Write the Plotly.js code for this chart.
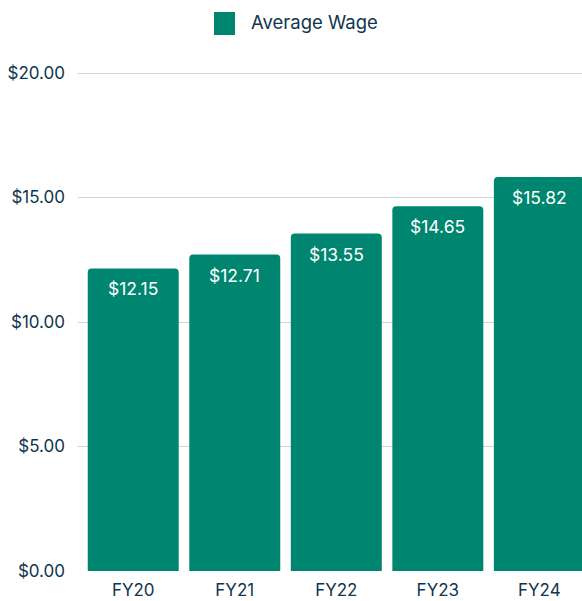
<!DOCTYPE html>
<html>
<head>
<meta charset="utf-8">
<script src="https://cdn.plot.ly/plotly-3.0.1.min.js"></script>
<style>html,body{margin:0;padding:0;background:#fff;}#chart{width:582px;height:601px;}</style>
</head>
<body>
<div id="chart"></div>
<script>
const categories = ["FY20", "FY21", "FY22", "FY23", "FY24"];
const averageWage = [12.15, 12.71, 13.55, 14.65, 15.82];
const seriesName = "Average Wage";
const yTickValues = [0, 5, 10, 15, 20];
const yTickLabels = ["$0.00", "$5.00", "$10.00", "$15.00", "$20.00"];

const barColor = "#008571";
const textColor = "#0f3550";
const fontFamily = "Inter, 'Noto Sans', sans-serif";

const labels = averageWage.map(v => "$" + v.toFixed(2));

const trace = {
  type: "bar",
  name: seriesName,
  x: categories,
  y: averageWage,
  marker: {color: barColor, cornerradius: 4},
  hoverinfo: "skip",
  showlegend: false
};

// plot area: top 69, bottom 571 (502 px); $20 gridline at 73
const plotTop = 69, plotH = 502;

const annotations = categories.map((c, i) => ({
  x: c, y: averageWage[i], xref: "x", yref: "y",
  text: labels[i], showarrow: false, yanchor: "top", yshift: -8,
  font: {family: fontFamily, size: 17.5, color: "#ffffff"}
}));
annotations.push({
  xref: "paper", yref: "paper", x: (249 - 78) / 504, y: 1 + (plotTop - 22) / plotH,
  xanchor: "left", yanchor: "middle", text: seriesName, showarrow: false,
  font: {family: fontFamily, size: 18.5, color: textColor}
});

const layout = {
  width: 582, height: 601,
  margin: {l: 78, r: 0, t: plotTop, b: 30, pad: 0},
  paper_bgcolor: "#ffffff", plot_bgcolor: "#ffffff",
  font: {family: fontFamily, size: 17, color: textColor},
  bargap: 0.104,
  showlegend: false,
  xaxis: {
    type: "category",
    range: [-0.544, 4.42],
    showgrid: false, zeroline: false, showline: false,
    ticks: "", ticklabelstandoff: 7,
    tickfont: {family: fontFamily, size: 17, color: textColor},
    fixedrange: true
  },
  yaxis: {
    range: [0, 20 * plotH / 498],
    tickvals: yTickValues, ticktext: yTickLabels,
    showgrid: true, gridcolor: "#cdd4da", gridwidth: 1,
    zeroline: false, showline: false, ticks: "",
    ticklabelstandoff: 12,
    tickfont: {family: fontFamily, size: 17, color: textColor},
    fixedrange: true
  },
  shapes: [{
    type: "rect", xref: "paper", yref: "paper",
    x0: (214 - 78) / 504, x1: (235 - 78) / 504,
    y0: 1 + (plotTop - 35) / plotH, y1: 1 + (plotTop - 12) / plotH,
    fillcolor: barColor, line: {width: 0}
  }],
  annotations: annotations
};

Plotly.newPlot("chart", [trace], layout, {displayModeBar: false, staticPlot: true});
</script>
</body>
</html>
